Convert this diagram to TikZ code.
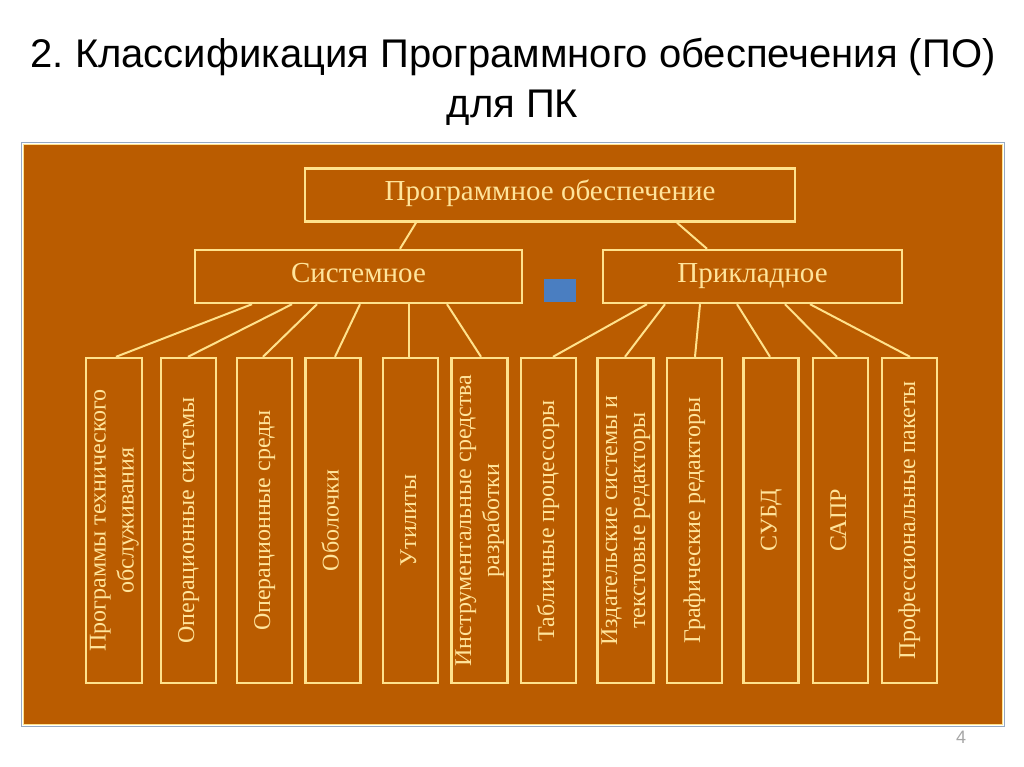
\documentclass[tikz,border=0pt]{standalone}
\usepackage{fontspec}
\usepackage{graphicx}
\setmainfont{Liberation Serif}
\newfontfamily\titlefont{Liberation Sans}
\usetikzlibrary{positioning}

\definecolor{panelbrown}{RGB}{186,92,0}
\definecolor{lineyellow}{RGB}{255,226,140}
\definecolor{textyellow}{RGB}{255,228,155}
\definecolor{framegray}{RGB}{150,170,195}
\definecolor{markblue}{RGB}{74,126,193}

% vertical label, several lines
\newcommand{\vtext}[1]{\rotatebox{90}{\begin{tabular}{@{}c@{}}#1\end{tabular}}}

\begin{document}
\frenchspacing
\begin{tikzpicture}[x=1pt, y=-1pt,
        tier/.style={rectangle, draw=lineyellow, line width=2.4pt, text=textyellow,
        minimum height=53pt, inner sep=0pt, text height=19pt, text depth=7pt,
        font=\fontsize{29}{33}\selectfont},
        leaf/.style={rectangle, draw=lineyellow, line width=2.4pt, text=textyellow,
        minimum width=55pt, minimum height=325pt, inner sep=0pt, font=\fontsize{24}{28}\selectfont},
        link/.style={draw=lineyellow, line width=2pt}]
        \useasboundingbox (0,0) rectangle (1024,767);

        % title
        \node (title) [anchor=base, font=\titlefont\fontsize{40}{44}\selectfont] at (513,68)
        {2. Классификация Программного обеспечения (ПО)};
        \node (titletwo) [anchor=base, font=\titlefont\fontsize{40}{44}\selectfont] at (512.5,118) {для ПК};

        % panel
        \draw[framegray, line width=1pt] (21.5,142.5) rectangle (1004,726);
        \draw[fill=panelbrown, draw=lineyellow, line width=1.2pt] (23.2,144.2) rectangle (1002.3,724.3);

        \node (po) [tier, minimum width=490pt] at (550,195) {Программное обеспечение};
        \node (sys) [tier, minimum width=327pt] at (358.5,276.5) {Системное};
        \node (app) [tier, minimum width=299pt] at (752.5,276.5) {Прикладное};
        \node (marker) [fill=markblue, minimum width=32pt, minimum height=23pt, inner sep=0pt] at (560,290.5) {};

        % system software
        \node (service) [leaf] at (114,520.5) {\vtext{Программы технического\\обслуживания}};
        \node (opsys) [leaf] at (188.5,520.5) {\vtext{Операционные системы}};
        \node (openv) [leaf] at (264.5,520.5) {\vtext{Операционные среды}};
        \node (shells) [leaf] at (333,520.5) {\vtext{Оболочки}};
        \node (utils) [leaf] at (410.5,520.5) {\vtext{Утилиты}};
        \node (devtools) [leaf] at (479.5,520.5) {\vtext{Инструментальные средства\\разработки}};

        % application software
        \node (sheets) [leaf] at (548.5,520.5) {\vtext{Табличные процессоры}};
        \node (publish) [leaf] at (625.5,520.5) {\vtext{Издательские системы и\\текстовые редакторы}};
        \node (graphics) [leaf] at (694.5,520.5) {\vtext{Графические редакторы}};
        \node (dbms) [leaf] at (771,520.5) {\vtext{СУБД}};
        \node (cad) [leaf] at (840.5,520.5) {\vtext{САПР}};
        \node (profpack) [leaf] at (909.5,520.5) {\vtext{Профессиональные пакеты}};

        \node (pagenum) [text=black!35, font=\titlefont\fontsize{18}{20}\selectfont] at (961,737) {4};

        \draw[link] (po.south -| 416,0) -- (sys.north -| 400,0);
        \draw[link] (po.south -| 677,0) -- (app.north -| 707,0);

        \draw[link] (sys.south -| 252,0) -- (service.north -| 116,0);
        \draw[link] (sys.south -| 292,0) -- (opsys.north -| 188,0);
        \draw[link] (sys.south -| 317,0) -- (openv.north -| 263,0);
        \draw[link] (sys.south -| 360,0) -- (shells.north -| 335,0);
        \draw[link] (sys.south -| 409,0) -- (utils.north -| 409,0);
        \draw[link] (sys.south -| 447,0) -- (devtools.north -| 481,0);

        \draw[link] (app.south -| 647,0) -- (sheets.north -| 553,0);
        \draw[link] (app.south -| 665,0) -- (publish.north -| 625,0);
        \draw[link] (app.south -| 700,0) -- (graphics.north -| 695,0);
        \draw[link] (app.south -| 737,0) -- (dbms.north -| 770,0);
        \draw[link] (app.south -| 785,0) -- (cad.north -| 837,0);
        \draw[link] (app.south -| 810,0) -- (profpack.north -| 910,0);
    \end{tikzpicture}
\end{document}
